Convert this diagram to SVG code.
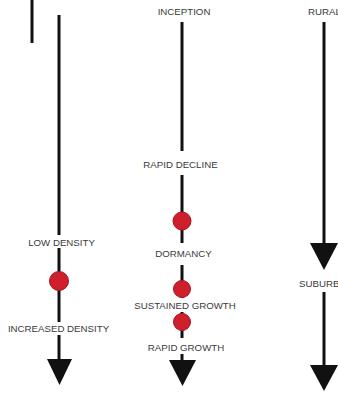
<svg xmlns="http://www.w3.org/2000/svg" width="338" height="394" viewBox="0 0 338 394">
<style>
.ln{stroke:#111;stroke-width:3;fill:none}
.ah{fill:#111}
.lb{font-family:"Liberation Sans",Arial,sans-serif;font-size:9.7px;fill:#3a3a3a}
.dot{fill:#d01f2c;stroke:#a31420;stroke-width:1}
</style>
<rect width="338" height="394" fill="#fff"/>
<g id="connectors">
<line class="ln" x1="32" y1="0" x2="32" y2="43"/>
<line class="ln" x1="59" y1="15" x2="59" y2="235"/>
<line class="ln" x1="59" y1="248" x2="59" y2="322"/>
<line class="ln" x1="59" y1="335" x2="59" y2="361"/>
<polygon class="ah" points="47,359 72,359 59.5,385"/>
<line class="ln" x1="182" y1="22" x2="182" y2="151"/>
<line class="ln" x1="182" y1="175" x2="182" y2="243"/>
<line class="ln" x1="182" y1="265" x2="182" y2="298"/>
<line class="ln" x1="182" y1="312" x2="182" y2="338"/>
<line class="ln" x1="182" y1="354" x2="182" y2="362"/>
<polygon class="ah" points="169,360 196,360 182.5,386"/>
<line class="ln" x1="324" y1="22" x2="324" y2="245"/>
<polygon class="ah" points="310,243 338,243 324,270"/>
<line class="ln" x1="324" y1="292" x2="324" y2="367"/>
<polygon class="ah" points="310,365 338,365 324,391"/>
</g>
<g id="inception"><text class="lb" x="184" y="14.5" text-anchor="middle">INCEPTION</text></g>
<g id="rapid-decline"><text class="lb" x="180.5" y="167.5" text-anchor="middle">RAPID DECLINE</text></g>
<g id="decline-dot"><circle class="dot" cx="182" cy="221" r="9"/></g>
<g id="dormancy"><text class="lb" x="183.5" y="256.5" text-anchor="middle">DORMANCY</text></g>
<g id="dormancy-dot"><circle class="dot" cx="182" cy="289" r="8.5"/></g>
<g id="sustained-growth"><text class="lb" x="185" y="308.5" text-anchor="middle">SUSTAINED GROWTH</text></g>
<g id="growth-dot"><circle class="dot" cx="182" cy="322" r="8.5"/></g>
<g id="rapid-growth"><text class="lb" x="186" y="350.5" text-anchor="middle">RAPID GROWTH</text></g>
<g id="low-density"><text class="lb" x="61.5" y="245.5" text-anchor="middle">LOW DENSITY</text></g>
<g id="density-dot"><circle class="dot" cx="59" cy="281" r="9.5"/></g>
<g id="increased-density"><text class="lb" x="58.5" y="331.5" text-anchor="middle">INCREASED DENSITY</text></g>
<g id="rural"><text class="lb" x="308" y="14.5">RURAL</text></g>
<g id="suburban"><text class="lb" x="299" y="286.5">SUBURBAN</text></g>
</svg>
